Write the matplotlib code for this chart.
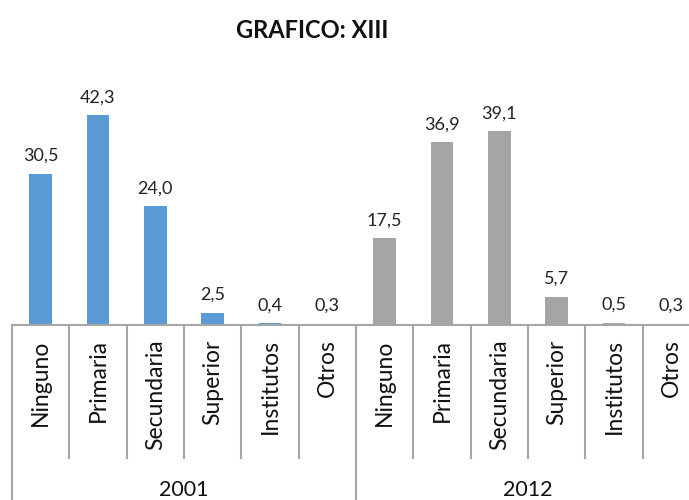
import matplotlib

matplotlib.use("Agg")
import matplotlib.pyplot as plt

plt.rcParams["font.family"] = ["Lato", "DejaVu Sans"]

CATEGORIES = ["Ninguno", "Primaria", "Secundaria", "Superior", "Institutos", "Otros"]
YEARS = ["2001", "2012"]
VALUES_2001 = [30.5, 42.3, 24.0, 2.5, 0.4, 0.3]
VALUES_2012 = [17.5, 36.9, 39.1, 5.7, 0.5, 0.3]

BLUE = "#5B9BD5"
GREY = "#A5A5A5"
LINE = "#A6A6A6"

fig = plt.figure(figsize=(6.89, 5.0), dpi=100)
# axes extends a little past the right edge, like the cropped original
ax = fig.add_axes([12 / 689, 175 / 500, 688 / 689, 248 / 500])

n = len(CATEGORIES)
x1 = list(range(n))
x2 = [n + i for i in range(n)]
b1 = ax.bar(x1, VALUES_2001, width=0.4, color=BLUE)
b2 = ax.bar(x2, VALUES_2012, width=0.4, color=GREY)
for bars in (b1, b2):
    ax.bar_label(bars, labels=[f"{v:.1f}".replace(".", ",") for v in bars.datavalues],
                 padding=7, fontsize=13, color="#222222")

ax.set_xlim(-0.5, 2 * n - 0.5)
ax.set_ylim(0, 50)
for s in ("top", "right", "left"):
    ax.spines[s].set_visible(False)
ax.spines["bottom"].set_color(LINE)
ax.spines["bottom"].set_linewidth(1.5)
ax.set_xticks([])
ax.set_yticks([])

tr = ax.get_xaxis_transform()
for i in range(2 * n + 1):
    group_edge = i % n == 0
    ax.plot([i - 0.5, i - 0.5], [0, -0.72 if group_edge else -0.535], transform=tr,
            color=LINE, lw=1.5, clip_on=False)
for xi, name in zip(x1 + x2, CATEGORIES * 2):
    ax.text(xi, -0.058, name, transform=tr, rotation=90, ha="center", va="top",
            fontsize=16.5, color="#111111")
for g, year in enumerate(YEARS):
    ax.text(g * n + (n - 1) / 2, -0.665, year, transform=tr, ha="center", va="center",
            fontsize=15.5, color="#111111")

fig.text(312 / 689, 1 - 30 / 500, "GRAFICO: XIII", ha="center", va="center",
         fontsize=17, fontweight="bold", color="#111111")

fig.savefig("out.png", dpi=100)
